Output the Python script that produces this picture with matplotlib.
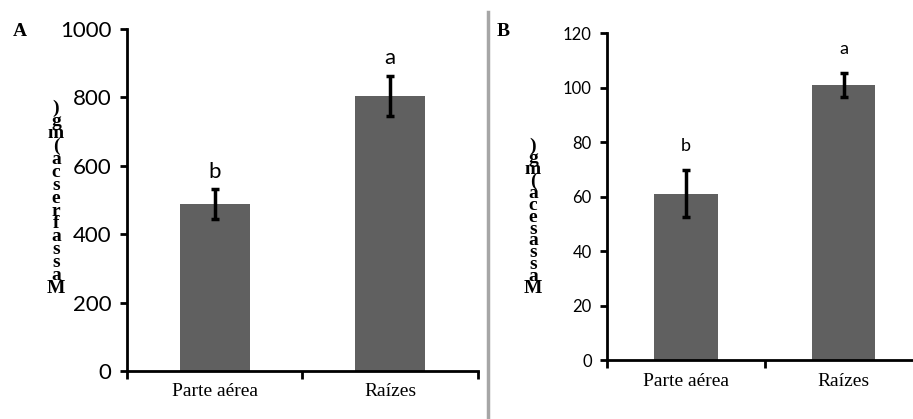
import matplotlib
matplotlib.use("Agg")
import matplotlib.pyplot as plt
from matplotlib.lines import Line2D

# data
categories = ["Parte aérea", "Raízes"]
fresh_mass = [488, 805]
fresh_err = [43, 58]
fresh_letters = ["b", "a"]
dry_mass = [61, 101]
dry_err = [8.7, 4.5]
dry_letters = ["b", "a"]

bar_color = "#606060"
sans = "Lato"
serif = "Liberation Serif"

fig = plt.figure(figsize=(9.13, 4.19), dpi=100)


def draw_panel(ax, values, errors, letters, ymax, ystep, tick_size, letter_size, letter_pad):
    x = [0, 1]
    ax.bar(x, values, width=0.4, color=bar_color, zorder=2)
    ax.errorbar(x, values, yerr=errors, fmt="none", ecolor="black",
                elinewidth=2.5, capsize=3, capthick=2.5, zorder=3)
    for xi, v, e, lab in zip(x, values, errors, letters):
        ax.text(xi, v + e + letter_pad, lab, ha="center", va="bottom",
                fontsize=letter_size, family=sans, clip_on=False)
    ax.set_xlim(-0.5, 1.5)
    ax.set_ylim(0, ymax)
    ax.set_yticks(range(0, ymax + 1, ystep))
    ax.set_xticks([-0.5, 0.5, 1.5])
    ax.set_xticklabels([])
    ax.set_xticks(x, minor=True)
    ax.set_xticklabels(categories, minor=True, family=serif, fontsize=14)
    ax.tick_params(axis="x", which="minor", length=0, pad=9)
    ax.tick_params(axis="x", which="major", direction="out", length=6, width=2)
    ax.tick_params(axis="y", direction="out", length=5, width=2,
                   labelsize=tick_size, pad=6)
    for lbl in ax.get_yticklabels():
        lbl.set_family(sans)
    for s in ["top", "right"]:
        ax.spines[s].set_visible(False)
    for s in ["left", "bottom"]:
        ax.spines[s].set_linewidth(2)


axA = fig.add_axes([0.139, 0.1146, 0.3845, 0.8162])
draw_panel(axA, fresh_mass, fresh_err, fresh_letters, 1000, 200, 16, 16, 22)

axB = fig.add_axes([0.6648, 0.1408, 0.346, 0.7804])
draw_panel(axB, dry_mass, dry_err, dry_letters, 120, 20, 12, 13, 5.8)

# panel letters
fig.text(13 / 913, 1 - 32 / 419, "A", family=serif, weight="bold", fontsize=14,
         ha="left", va="center")
fig.text(497 / 913, 1 - 32 / 419, "B", family=serif, weight="bold", fontsize=14,
         ha="left", va="center")

# stacked y labels, as they appear in the reference
labA = "\n".join(reversed(list("Massafresca(mg)")))
labB = "\n".join(reversed(list("Massaseca(mg)")))
fig.text(56 / 913, 1 - 198 / 419, labA, family=serif, weight="bold", fontsize=14,
         ha="center", va="center", linespacing=0.68)
fig.text(533 / 913, 1 - 217 / 419, labB, family=serif, weight="bold", fontsize=14,
         ha="center", va="center", linespacing=0.6)

# grey divider between panels
fig.add_artist(Line2D([488 / 913, 488 / 913], [0, 1 - 12 / 419],
                      transform=fig.transFigure, color="#a6a6a6", lw=2.5))

fig.savefig("out.png", dpi=100)
